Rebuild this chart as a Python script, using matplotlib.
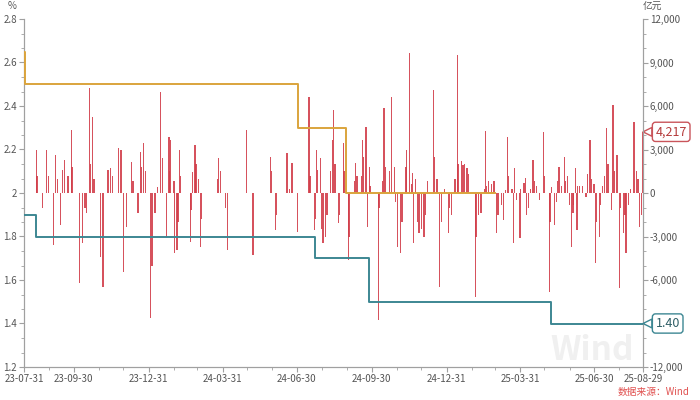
import matplotlib
matplotlib.use("Agg")
import matplotlib.pyplot as plt
import matplotlib.dates as mdates
import matplotlib.ticker as mticker
import pandas as pd

plt.rcParams['font.family'] = ['Noto Sans CJK SC', 'DejaVu Sans']

# ---------------- data ----------------
# daily net liquidity injection (亿元)
dates = [
    "2023-08-01", "2023-08-15", "2023-08-16", "2023-08-23", "2023-08-28", "2023-08-30",
    "2023-09-05", "2023-09-08", "2023-09-10", "2023-09-14", "2023-09-16", "2023-09-19",
    "2023-09-23", "2023-09-27", "2023-09-28", "2023-10-07", "2023-10-11", "2023-10-14",
    "2023-10-16", "2023-10-19", "2023-10-21", "2023-10-23", "2023-10-25", "2023-11-02",
    "2023-11-05", "2023-11-11", "2023-11-14", "2023-11-17", "2023-11-24", "2023-11-27",
    "2023-11-30", "2023-12-04", "2023-12-10", "2023-12-12", "2023-12-18", "2023-12-21",
    "2023-12-22", "2023-12-25", "2023-12-27",
    "2024-01-02", "2024-01-04", "2024-01-08", "2024-01-11", "2024-01-15", "2024-01-17",
    "2024-01-22", "2024-01-25", "2024-01-26", "2024-01-27", "2024-01-31", "2024-02-01",
    "2024-02-04", "2024-02-05", "2024-02-07", "2024-02-08", "2024-02-20", "2024-02-21",
    "2024-02-23", "2024-02-26", "2024-02-27", "2024-03-01", "2024-03-04", "2024-03-05",
    "2024-03-25", "2024-03-26", "2024-03-28", "2024-04-03", "2024-04-06", "2024-04-29",
    "2024-05-07", "2024-05-29", "2024-05-30", "2024-06-04", "2024-06-05", "2024-06-18",
    "2024-06-21", "2024-06-24", "2024-07-01", "2024-07-15", "2024-07-16", "2024-07-22",
    "2024-07-23", "2024-07-24", "2024-07-25", "2024-07-29", "2024-07-30", "2024-08-01",
    "2024-08-04", "2024-08-06", "2024-08-10", "2024-08-13", "2024-08-14", "2024-08-16",
    "2024-08-20", "2024-08-21", "2024-08-26", "2024-08-27", "2024-09-01", "2024-09-02",
    "2024-09-09", "2024-09-10", "2024-09-12", "2024-09-17", "2024-09-19", "2024-09-20",
    "2024-09-23", "2024-09-25", "2024-09-27", "2024-09-28", "2024-10-08", "2024-10-09",
    "2024-10-13", "2024-10-15", "2024-10-17", "2024-10-22", "2024-10-24", "2024-10-28",
    "2024-10-29", "2024-11-01", "2024-11-04", "2024-11-06", "2024-11-11", "2024-11-12",
    "2024-11-15", "2024-11-18", "2024-11-19", "2024-11-20", "2024-11-23", "2024-11-25",
    "2024-11-27", "2024-11-30", "2024-12-03", "2024-12-05", "2024-12-07", "2024-12-15",
    "2024-12-16", "2024-12-19", "2024-12-22", "2024-12-25", "2024-12-28",
    "2025-01-02", "2025-01-03", "2025-01-06", "2025-01-10", "2025-01-13", "2025-01-14",
    "2025-01-18", "2025-01-20", "2025-01-22", "2025-01-25", "2025-01-27", "2025-02-04",
    "2025-02-05", "2025-02-08", "2025-02-11", "2025-02-15", "2025-02-17", "2025-02-18",
    "2025-02-20", "2025-02-24", "2025-02-27", "2025-03-02", "2025-03-04", "2025-03-08",
    "2025-03-11", "2025-03-13", "2025-03-16", "2025-03-17", "2025-03-21", "2025-03-23",
    "2025-03-24", "2025-03-27", "2025-03-31", "2025-04-01", "2025-04-05", "2025-04-07",
    "2025-04-08", "2025-04-10", "2025-04-13", "2025-04-16", "2025-04-18", "2025-04-20",
    "2025-04-24", "2025-04-29", "2025-04-30", "2025-05-06", "2025-05-07", "2025-05-09",
    "2025-05-12", "2025-05-15", "2025-05-16", "2025-05-18", "2025-05-21", "2025-05-25",
    "2025-05-26", "2025-05-28", "2025-05-31", "2025-06-02", "2025-06-04", "2025-06-05",
    "2025-06-07", "2025-06-09", "2025-06-10", "2025-06-12", "2025-06-16", "2025-06-20",
    "2025-06-22", "2025-06-25", "2025-06-27", "2025-06-30", "2025-07-02", "2025-07-03",
    "2025-07-07", "2025-07-08", "2025-07-10", "2025-07-13", "2025-07-15", "2025-07-17",
    "2025-07-21", "2025-07-23", "2025-07-25", "2025-07-28", "2025-07-31", "2025-08-01",
    "2025-08-05", "2025-08-07", "2025-08-08", "2025-08-11", "2025-08-14", "2025-08-18",
    "2025-08-21", "2025-08-23", "2025-08-25", "2025-08-27", "2025-08-29",
]
net_injection = [
    -970, 3000, 1200, -1000, 3000, 1200,
    -3600, 2600, 1000, -2200, 1600, 2270,
    1200, 4350, 1800, -6200, -3450, -1000,
    -1400, 7240, 2000, 5240, 1000, -4400,
    -6450, 1600, 1700, 1200, 3100, 2960,
    -5450, -2350, 2140, 800, -1380, 2830,
    1800, 3450, 1500,
    -8600, -5000, -1400, 400, 6970, 2400,
    -3030, 3860, 1500, 3650, 800, -4140,
    -3930, -2000, 2960, 1200, -3380, -1200,
    1450, 3300, 2000, 1000, -3720, -1800,
    1000, 2400, 1500, -1000, -3930, 4350,
    -4300, 2480, 1500, -2550, -1500, 2760,
    300, 2070, -2700, 6620, 1200, -2550,
    -1800, 2960, 1600, 2400, -2500, -3450,
    -3030, -1500, 1500, 3650, 5720, 2000,
    -2070, -1500, 3450, 1500, -4620, -3000,
    800, 2070, 1200, 1200, 3650, 2500,
    4550, -2340, 1790, 500, -8760, -1000,
    800, 5860, 1800, 1500, 6620, 1790,
    -600, -3720, -4140, -2000, 1800, 2960,
    9650, 600, 1380, -3450, 1000, -2000,
    -2760, -2500, -3030, -1500, 800, 7100,
    2500, 1000, -6480, -2000, 300,
    -2760, -1000, -1520, 1000, 9520, 2000,
    2200, 1930, 2000, 1720, 1300, -7170,
    -3000, -1500, -1380, 300, 4300, 500,
    800, 600, 800, -2760, -1500, -800,
    -1860, 200, 3860, 1200, 300, -3450,
    1720, -500, -3100, 300, 700, 1030,
    -1520, -1000, 300, 2280, 800, 500,
    -500, 4210, 1200, -6830, -2000, 400,
    -2210, -600, 800, 1790, 500, 2480,
    800, 1200, -800, -3720, -1380, -800,
    1720, -2550, 500, 500, 500, -300,
    1300, 3650, 1000, 600, -4830, -2000,
    -3030, -800, 500, 1200, 4480, 2000,
    -1170, 6070, 1500, 2620, -6550, -1000,
    -2760, -1500, -4140, -800, 300, 4900,
    1500, 1000, -2340, -1500, 4217,
]

# policy rate step series (%)
mlf_dates = ["2023-07-31", "2023-08-01", "2024-07-01", "2024-08-29", "2025-02-28"]
mlf_rate = [2.65, 2.50, 2.30, 2.00, 2.00]

repo_dates = ["2023-07-31", "2023-08-15", "2024-07-22", "2024-09-27", "2025-05-08", "2025-08-29"]
repo_rate = [1.90, 1.80, 1.70, 1.50, 1.40, 1.40]

tick_dates = ["2023-07-31", "2023-09-30", "2023-12-31", "2024-03-31", "2024-06-30",
              "2024-09-30", "2024-12-31", "2025-03-31", "2025-06-30", "2025-08-29"]

# right-axis tick label hidden behind the "1.40" call-out in the reference
hidden_right_ticks = [-9000]

last_value_label = "4,217"
last_rate_label = "1.40"

# ---------------- plot ----------------
d = pd.to_datetime(dates)
fig = plt.figure(figsize=(7, 4), dpi=100)
ax = fig.add_axes([24/700, 33/400, 619/700, 348/400])
ax2 = ax.twinx()

# faint watermark behind everything
fig.text(592/700, 1 - 350/400, 'Wind', fontsize=24, fontweight='bold', color='#f0f0f0',
         ha='center', va='center', zorder=0)

ax2.bar(d, net_injection, width=1.6, color='#d23f4b', linewidth=0, alpha=0.9, zorder=2)

ax.step(pd.to_datetime(mlf_dates), mlf_rate, where='post', color='#dba43c', lw=1.4, zorder=3)
ax.step(pd.to_datetime(repo_dates), repo_rate, where='post', color='#3d8793', lw=1.4, zorder=3)

ax.set_zorder(ax2.get_zorder() + 1)
ax.patch.set_visible(False)
ax2.patch.set_visible(False)

xmin, xmax = pd.Timestamp("2023-07-31"), pd.Timestamp("2025-08-29")
ax.set_xlim(xmin, xmax)
ax.set_ylim(1.2, 2.8)
ax2.set_ylim(-12000, 12000)

ax.yaxis.set_major_locator(mticker.MultipleLocator(0.2))
ax.yaxis.set_minor_locator(mticker.MultipleLocator(0.2 / 3))
ax.yaxis.set_major_formatter(mticker.FuncFormatter(lambda v, p: f"{round(v, 2):g}"))
ax2.yaxis.set_major_locator(mticker.MultipleLocator(3000))
ax2.yaxis.set_minor_locator(mticker.MultipleLocator(1000))
ax2.yaxis.set_major_formatter(mticker.FuncFormatter(
    lambda v, p: '' if int(round(v)) in hidden_right_ticks else f"{int(round(v)):,}"))

td = pd.to_datetime(tick_dates)
ax.set_xticks(td)
ax.set_xticklabels([t.strftime('%y-%m-%d') for t in td])
ax.xaxis.set_minor_locator(mdates.MonthLocator(bymonthday=-1))

gray = '#a0a0a0'
for a in (ax, ax2):
    for s in a.spines.values():
        s.set_color(gray)
        s.set_linewidth(0.8)
    a.spines['top'].set_visible(False)
    a.tick_params(which='both', colors=gray, labelcolor='#555555', labelsize=7, direction='out')
    a.tick_params(which='major', length=3.5, width=0.8, pad=1.5)
    a.tick_params(which='minor', length=2, width=0.6)

fig.text(12/700, 1 - 6/400, '%', fontsize=7, color='#555555', ha='center', va='center')
fig.text(652/700, 1 - 7/400, '亿元', fontsize=7, color='#555555', ha='center', va='center')

# end-value call-outs
ax2.annotate(last_value_label, xy=(1, 4217), xycoords=('axes fraction', 'data'),
             xytext=(9, 0), textcoords='offset points', va='center', ha='left',
             fontsize=9, color='#b53b3b',
             bbox=dict(boxstyle='round,pad=0.25', fc='white', ec='#c9545a', lw=1),
             arrowprops=dict(arrowstyle='wedge,tail_width=0.7', fc='white', ec='#c9545a',
                             lw=1, shrinkA=0, shrinkB=0),
             annotation_clip=False, zorder=6)
ax.annotate(last_rate_label, xy=(1, 1.40), xycoords=('axes fraction', 'data'),
            xytext=(9, 0), textcoords='offset points', va='center', ha='left',
            fontsize=9, color='#2f5f66',
            bbox=dict(boxstyle='round,pad=0.25', fc='white', ec='#3d8793', lw=1),
            arrowprops=dict(arrowstyle='wedge,tail_width=0.7', fc='white', ec='#3d8793',
                            lw=1, shrinkA=0, shrinkB=0),
            annotation_clip=False, zorder=6)

fig.text(690/700, 1 - 392/400, '数据来源：Wind', fontsize=7, color='#e0504f',
         ha='right', va='center')

fig.savefig('out.png', dpi=100)
